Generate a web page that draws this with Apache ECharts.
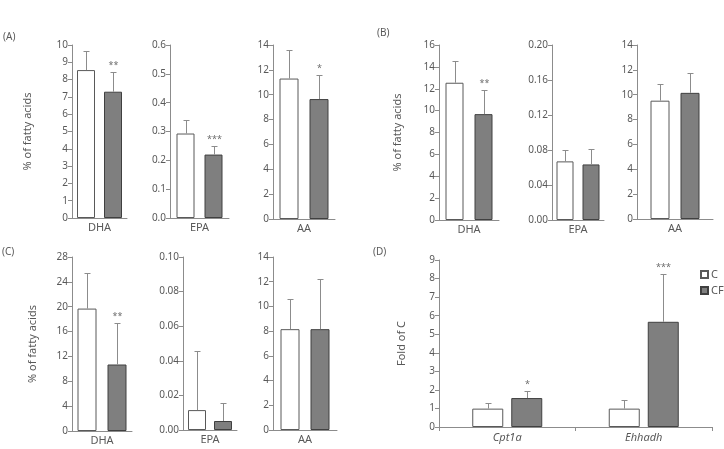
<!DOCTYPE html>
<html>
<head>
<meta charset="utf-8">
<script src="https://cdn.jsdelivr.net/npm/echarts@6/dist/echarts.min.js"></script>
<style>
  html, body { margin: 0; padding: 0; background: #fff; }
  #main { width: 724px; height: 449px; }
</style>
</head>
<body>
<div id="main"></div>
<script>
var fattyAcids = ['DHA', 'EPA', 'AA'];
var genes = ['Cpt1a', 'Ehhadh'];
var groupNames = ['C', 'CF'];

// panel A
var aMeanC = [8.55, 0.293, 11.3];
var aMeanCF = [7.3, 0.22, 9.65];
var aSdC = [1.08, 0.048, 2.27];
var aSdCF = [1.16, 0.031, 1.9];
var aStars = ['**', '***', '*'];
var aMax = [10, 0.6, 14];
var aStep = [1, 0.1, 2];
var aDigits = [0, 1, 0];

// panel B
var bMeanC = [12.55, 0.067, 9.52];
var bMeanCF = [9.68, 0.0635, 10.15];
var bSdC = [1.98, 0.013, 1.32];
var bSdCF = [2.2, 0.018, 1.58];
var bStars = ['**', '', ''];
var bMax = [16, 0.2, 14];
var bStep = [2, 0.04, 2];
var bDigits = [0, 2, 0];

// panel C
var cMeanC = [19.7, 0.0115, 8.16];
var cMeanCF = [10.7, 0.0052, 8.16];
var cSdC = [5.7, 0.0341, 2.47];
var cSdCF = [6.6, 0.0106, 4.04];
var cStars = ['**', '', ''];
var cMax = [28, 0.1, 14];
var cStep = [4, 0.02, 2];
var cDigits = [0, 2, 0];

// panel D
var dMeanC = [0.99, 0.99];
var dMeanCF = [1.56, 5.67];
var dSdC = [0.32, 0.48];
var dSdCF = [0.38, 2.6];
var dStars = ['*', '***'];

var myChart = echarts.init(document.getElementById('main'));

var txt = '#595959';
var axisCol = '#8c8c8c';
var font = 'Noto Sans';

// plot boxes in px: [left, right, top, bottom, barWidth, barGapPx]
var boxes = [
    [72, 127, 45, 218, 18, 9],
    [170, 229, 45, 218, 18, 10],
    [273, 335, 45, 219, 19, 11],
    [439, 499, 45, 220, 18, 11],
    [552, 604, 45, 220, 17, 9],
    [637, 713, 45, 219, 19, 11],
    [72, 132, 257, 431, 19, 11],
    [183, 237, 257, 430, 18, 8],
    [273, 337, 257, 430, 19, 11],
    [439, 712, 260, 427, 31, 8]
];

var grids = [], xAxes = [], yAxes = [], series = [];

function errRender(half, stars) {
    return function (params, api) {
        var base = api.coord([api.value(0), api.value(1)]);
        var top = api.coord([api.value(0), api.value(1) + api.value(2)]);
        var x = Math.round(base[0] + api.value(3) * half) + 0.5;
        var yt = Math.round(top[1]) + 0.5;
        var st = { stroke: '#8c8c8c', lineWidth: 1 };
        var kids = [
            { type: 'line', shape: { x1: x, y1: base[1], x2: x, y2: yt }, style: st },
            { type: 'line', shape: { x1: x - 3, y1: yt, x2: x + 3, y2: yt }, style: st }
        ];
        var s = stars[params.dataIndex];
        if (s) {
            kids.push({
                type: 'text',
                style: { text: s, x: x, y: yt - 3, align: 'center', verticalAlign: 'bottom',
                    fill: '#6e6e6e', font: '9px "Noto Sans"' }
            });
        }
        return { type: 'group', children: kids };
    };
}

function addPlot(g, cats, meanC, meanCF, sdC, sdCF, stars, yMax, yStep, digits, yName, nameGap, isGene) {
    var b = boxes[g];
    grids.push({ left: b[0], top: b[2], width: b[1] - b[0], height: b[3] - b[2] });
    xAxes.push({
        type: 'category', gridIndex: g, data: cats,
        axisLine: { lineStyle: { color: axisCol } },
        axisTick: { show: !!isGene, length: 4, lineStyle: { color: axisCol } },
        axisLabel: { color: txt, fontSize: 11, fontFamily: font, margin: isGene ? 5 : 4,
            fontStyle: isGene ? 'italic' : 'normal' }
    });
    yAxes.push({
        type: 'value', gridIndex: g, min: 0, max: yMax, interval: yStep,
        name: yName, nameLocation: 'middle', nameGap: nameGap,
        nameTextStyle: { color: txt, fontSize: 11, fontFamily: font },
        axisLine: { show: true, lineStyle: { color: axisCol } },
        axisTick: { show: true, length: 4, lineStyle: { color: axisCol } },
        splitLine: { show: false },
        axisLabel: { color: txt, fontSize: 10, fontFamily: font, margin: 4,
            formatter: function (v) { return v.toFixed(digits); } }
    });
    var gapPct = (b[5] / b[4] * 100) + '%';
    series.push({
        name: 'C', type: 'bar', xAxisIndex: g, yAxisIndex: g,
        barWidth: b[4], barGap: gapPct, data: meanC,
        itemStyle: { color: '#ffffff', borderColor: '#595959', borderWidth: 1 }
    });
    series.push({
        name: 'CF', type: 'bar', xAxisIndex: g, yAxisIndex: g,
        barWidth: b[4], barGap: gapPct, data: meanCF,
        itemStyle: { color: '#7f7f7f', borderColor: '#404040', borderWidth: 1 }
    });
    var errData = [], errStars = [];
    for (var i = 0; i < cats.length; i++) {
        errData.push([i, meanC[i], sdC[i], -1]);
        errStars.push('');
        errData.push([i, meanCF[i], sdCF[i], 1]);
        errStars.push(stars[i]);
    }
    series.push({
        type: 'custom', xAxisIndex: g, yAxisIndex: g, z: 5, silent: true,
        renderItem: errRender((b[4] + b[5]) / 2, errStars),
        data: errData
    });
}

var panels = [
    [aMeanC, aMeanCF, aSdC, aSdCF, aStars, aMax, aStep, aDigits, 39],
    [bMeanC, bMeanCF, bSdC, bSdCF, bStars, bMax, bStep, bDigits, 36],
    [cMeanC, cMeanCF, cSdC, cSdCF, cStars, cMax, cStep, cDigits, 34]
];
for (var p = 0; p < panels.length; p++) {
    var P = panels[p];
    for (var k = 0; k < fattyAcids.length; k++) {
        addPlot(p * 3 + k, [fattyAcids[k]], [P[0][k]], [P[1][k]], [P[2][k]], [P[3][k]], [P[4][k]],
            P[5][k], P[6][k], P[7][k], k === 0 ? '% of fatty acids' : '', P[8], false);
    }
}
addPlot(9, genes, dMeanC, dMeanCF, dSdC, dSdCF, dStars, 9, 1, 0, 'Fold of C', 32, true);

var labelStyle = { fill: txt, font: '10px "Noto Sans"' };
var option = {
    backgroundColor: '#ffffff',
    animation: false,
    grid: grids,
    xAxis: xAxes,
    yAxis: yAxes,
    series: series,
    legend: {
        data: groupNames,
        orient: 'vertical',
        left: 700, top: 269,
        padding: 0,
        itemWidth: 7, itemHeight: 7, itemGap: 5,
        icon: 'rect',
        textStyle: { color: txt, fontSize: 11, fontFamily: font, padding: [0, 0, 0, -2] }
    },
    graphic: [
        { type: 'text', left: 3, top: 32, style: Object.assign({ text: '(A)' }, labelStyle) },
        { type: 'text', left: 377, top: 28, style: Object.assign({ text: '(B)' }, labelStyle) },
        { type: 'text', left: 2, top: 247, style: Object.assign({ text: '(C)' }, labelStyle) },
        { type: 'text', left: 373, top: 247, style: Object.assign({ text: '(D)' }, labelStyle) }
    ]
};
myChart.setOption(option);
</script>
</body>
</html>
